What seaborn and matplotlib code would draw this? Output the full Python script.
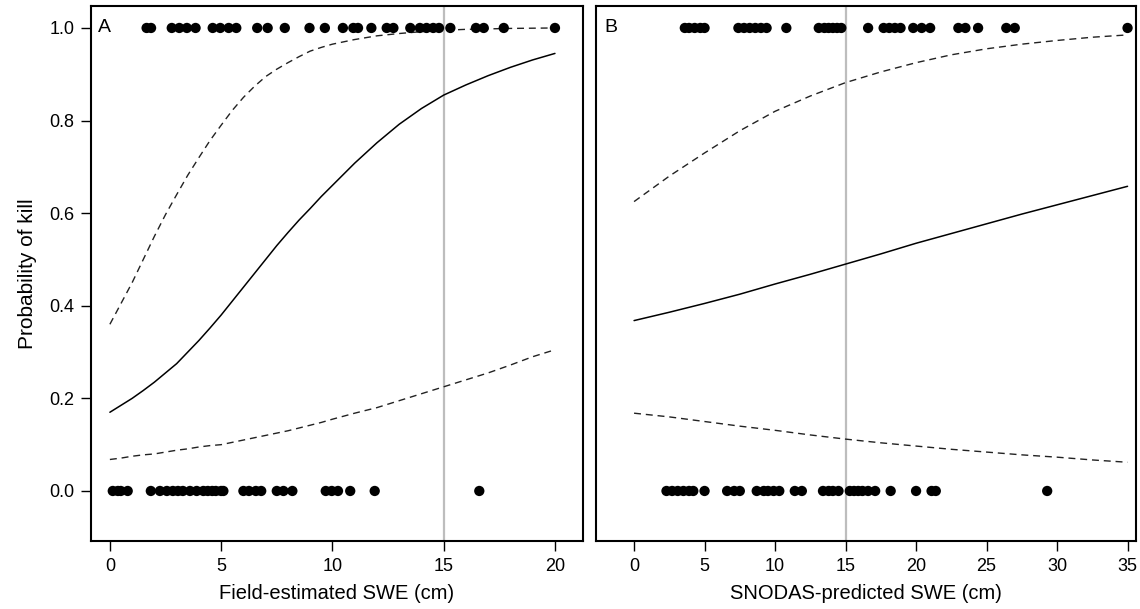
import matplotlib
matplotlib.use("Agg")
import matplotlib.pyplot as plt
import pandas as pd
import seaborn as sns

# panel A: field-estimated SWE
field_kill = [1.65, 1.85, 2.78, 3.12, 3.46, 3.85, 4.62, 4.96, 5.34, 5.68, 6.62, 7.09,
              7.86, 8.97, 9.66, 10.47, 10.94, 11.15, 11.75, 12.44, 12.74, 13.5, 13.93,
              14.23, 14.53, 14.79, 15.3, 16.45, 16.8, 17.7, 20.0]
field_nokill = [0.13, 0.36, 0.49, 0.8, 1.84, 2.25, 2.56, 2.83, 3.06, 3.28, 3.6, 3.9,
                4.2, 4.4, 4.6, 4.76, 5.0, 5.1, 6.0, 6.25, 6.56, 6.8, 7.5, 7.8, 8.2,
                9.7, 9.97, 10.25, 10.8, 11.9, 16.6]
field_x = [0, 0.5, 1, 1.5, 2, 2.5, 3, 3.5, 4, 4.5, 5, 5.5, 6, 6.5, 7, 7.5, 8, 8.5, 9,
           9.5, 10, 11, 12, 13, 14, 15, 16, 17, 18, 19, 20]
field_fit = [0.17, 0.185, 0.20, 0.217, 0.235, 0.255, 0.275, 0.30, 0.325, 0.352, 0.38,
             0.41, 0.44, 0.47, 0.50, 0.53, 0.558, 0.585, 0.61, 0.636, 0.66, 0.708,
             0.752, 0.792, 0.826, 0.855, 0.877, 0.897, 0.915, 0.931, 0.945]
field_upper = [0.36, 0.405, 0.45, 0.50, 0.55, 0.597, 0.64, 0.682, 0.72, 0.757, 0.79,
               0.822, 0.85, 0.874, 0.895, 0.911, 0.925, 0.938, 0.95, 0.958, 0.965,
               0.975, 0.983, 0.988, 0.992, 0.995, 0.997, 0.998, 0.999, 0.9995, 1.0]
field_lower = [0.068, 0.071, 0.075, 0.078, 0.08, 0.084, 0.088, 0.091, 0.095, 0.098,
               0.10, 0.105, 0.11, 0.115, 0.12, 0.125, 0.13, 0.136, 0.142, 0.148,
               0.155, 0.168, 0.18, 0.195, 0.21, 0.225, 0.24, 0.255, 0.272, 0.29, 0.305]

# panel B: SNODAS-predicted SWE
snodas_kill = [3.6, 3.9, 4.3, 4.7, 5.0, 7.4, 7.8, 8.2, 8.6, 9.0, 9.4, 10.8, 13.1, 13.5,
               13.8, 14.1, 14.4, 14.7, 16.6, 17.7, 18.1, 18.5, 18.9, 19.8, 20.4, 21.0,
               23.0, 23.5, 24.4, 26.4, 27.0, 35.0]
snodas_nokill = [2.3, 2.7, 3.1, 3.5, 3.9, 4.2, 5.0, 6.6, 7.1, 7.5, 8.7, 9.2, 9.5, 9.9,
                 10.3, 11.4, 11.9, 13.4, 13.8, 14.1, 14.5, 15.3, 15.6, 15.9, 16.2, 16.6,
                 17.1, 18.2, 20.0, 21.1, 21.4, 29.3]
snodas_x = [0, 2.5, 5, 7.5, 10, 12.5, 15, 17.5, 20, 22.5, 25, 27.5, 30, 32.5, 35]
snodas_fit = [0.368, 0.386, 0.405, 0.425, 0.447, 0.468, 0.49, 0.512, 0.535, 0.556,
              0.577, 0.598, 0.618, 0.638, 0.658]
snodas_upper = [0.625, 0.68, 0.73, 0.778, 0.82, 0.853, 0.882, 0.905, 0.925, 0.942,
                0.955, 0.965, 0.973, 0.98, 0.985]
snodas_lower = [0.168, 0.16, 0.15, 0.14, 0.131, 0.121, 0.112, 0.104, 0.097, 0.09,
                0.084, 0.078, 0.073, 0.067, 0.062]

sns.set_style("ticks")
plt.rcParams["font.family"] = ["Liberation Sans", "DejaVu Sans"]
plt.rcParams["text.color"] = "black"
plt.rcParams["axes.labelcolor"] = "black"

fig = plt.figure(figsize=(11.4, 6.09), dpi=100)
ax_a = fig.add_axes([0.0798, 0.1117, 0.4316, 0.8785])
ax_b = fig.add_axes([0.5228, 0.1117, 0.4737, 0.8785])


def draw_panel(ax, kill, nokill, xs, fit, upper, lower, letter):
    pts = pd.DataFrame({"swe": kill + nokill,
                        "kill": [1] * len(kill) + [0] * len(nokill)})
    ax.axvline(15, color="#bdbdbd", lw=1.6, zorder=1)
    curves = pd.DataFrame({"swe": xs, "fit": fit, "upper": upper, "lower": lower})
    sns.lineplot(data=curves, x="swe", y="fit", ax=ax, color="black", lw=1.1)
    for col in ["upper", "lower"]:
        sns.lineplot(data=curves, x="swe", y=col, ax=ax, color="#222222", lw=1.0,
                     linestyle=(0, (5, 3.5)))
    sns.scatterplot(data=pts, x="swe", y="kill", ax=ax, color="black", s=55,
                    edgecolor="none", zorder=3)
    ax.text(0.015, 0.975, letter, transform=ax.transAxes, fontsize=14,
            va="top", ha="left")
    for sp in ax.spines.values():
        sp.set_visible(True)
        sp.set_color("black")
        sp.set_linewidth(1.5)
    ax.tick_params(axis="both", direction="out", length=7, width=1.0,
                   labelsize=13, colors="black", pad=5)
    ax.set_ylim(-0.108, 1.0475)


draw_panel(ax_a, field_kill, field_nokill, field_x, field_fit, field_upper,
           field_lower, "A")
ax_a.set_xlim(-0.85, 21.26)
ax_a.set_xticks([0, 5, 10, 15, 20])
ax_a.set_yticks([0.0, 0.2, 0.4, 0.6, 0.8, 1.0])
ax_a.set_yticklabels(["0.0", "0.2", "0.4", "0.6", "0.8", "1.0"])
ax_a.set_xlabel("Field-estimated SWE (cm)", fontsize=14.5, labelpad=7)
ax_a.set_ylabel("Probability of kill", fontsize=15, labelpad=9)

draw_panel(ax_b, snodas_kill, snodas_nokill, snodas_x, snodas_fit, snodas_upper,
           snodas_lower, "B")
ax_b.set_xlim(-2.7, 35.6)
ax_b.set_xticks([0, 5, 10, 15, 20, 25, 30, 35])
ax_b.set_yticks([])
ax_b.set_ylabel("")
ax_b.set_xlabel("SNODAS-predicted SWE (cm)", fontsize=14.5, labelpad=7)

fig.savefig("out.png", dpi=100)
